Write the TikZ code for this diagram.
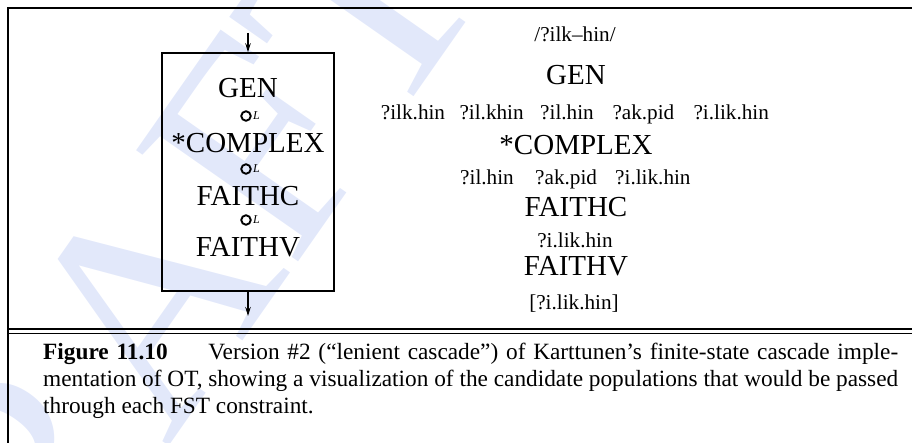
\documentclass[tikz,border=0pt]{standalone}
\usepackage{fontspec}
\setmainfont{Liberation Serif}
\usetikzlibrary{arrows.meta}
\definecolor{wmblue}{RGB}{226,232,250}

\begin{document}
\begin{tikzpicture}[x=1pt,y=-1pt,
  big/.style={font=\fontsize{29}{30}\selectfont, inner sep=0pt, anchor=base},
  cand/.style={font=\fontsize{21.2}{24}\selectfont, inner sep=0pt, anchor=base},
  candw/.style={cand, anchor=base west},
  capline/.style={font=\fontsize{23.3}{27}\selectfont, inner sep=0pt, anchor=base west},
  ring/.style={circle, draw, line width=1.9pt, minimum size=9.5pt, inner sep=0pt},
  sub/.style={font=\itshape\fontsize{12}{12}\selectfont, inner sep=0pt, anchor=base west},
  flow/.style={line width=1.2pt, -{Stealth[length=9pt,width=5.5pt]}},
  framerule/.style={line width=2pt},
  fst/.style={draw, line width=1.5pt, minimum width=172pt, minimum height=238pt, inner sep=0pt},
]
\useasboundingbox (0,0) rectangle (912,443);

% faint watermark behind everything
\begin{scope}
  \clip (0,0) rectangle (912,443);
  \node[text=wmblue, font=\fontsize{300}{300}\selectfont, rotate=55] (wm) at (130,330) {DRAFT};
\end{scope}

% page frame and caption rule
\draw[framerule] (8,443) -- (8,8) -- (912,8);
\draw[line width=1.7pt] (8,329) -- (912,329);
\draw[line width=1.7pt] (8,333.5) -- (912,333.5);

% the lenient cascade as a single composed transducer
\node[fst] (box) at (248,172) {};
\coordinate (in) at (248,33);
\coordinate (out) at (248,316);
\draw[flow] (in) -- (box.north);
\draw[flow] (box.south) -- (out);

\node[big] (bgen) at (248,98) {GEN};
\node[ring] (r1) at (246,116) {};
\node[sub] (l1) at ([xshift=3pt,yshift=1pt]r1.south east) {L};
\node[big] (bcomplex) at (248,153) {*COMPLEX};
\node[ring] (r2) at (246,169) {};
\node[sub] (l2) at ([xshift=3pt,yshift=1pt]r2.south east) {L};
\node[big] (bfaithc) at (248,206) {FAITHC};
\node[ring] (r3) at (246,220) {};
\node[sub] (l3) at ([xshift=3pt,yshift=1pt]r3.south east) {L};
\node[big] (bfaithv) at (248,257) {FAITHV};

% candidate populations passed through each constraint
\node[cand] (input) at (575,42) {/?ilk–hin/};
\node[big] (gen) at (576,84.5) {GEN};
\node[candw] (a1) at (380.7,120) {?ilk.hin};
\node[candw] (a2) at (459.3,120) {?il.khin};
\node[candw] (a3) at (540,120) {?il.hin};
\node[candw] (a4) at (612.3,120) {?ak.pid};
\node[candw] (a5) at (693.3,120) {?i.lik.hin};
\node[big] (complex) at (576,154.5) {*COMPLEX};
\node[candw] (b1) at (460,185) {?il.hin};
\node[candw] (b2) at (535,185) {?ak.pid};
\node[candw] (b3) at (615,185) {?i.lik.hin};
\node[big] (faithc) at (576,216.5) {FAITHC};
\node[cand] (c1) at (575,248) {?i.lik.hin};
\node[big] (faithv) at (576,275.5) {FAITHV};
\node[cand] (result) at (574,309) {[?i.lik.hin]};

% caption
\node[capline] (cap1) at (43,359) {\makebox[855pt][s]{\textbf{Figure 11.10}\hspace{1.75em}Version \#2 (“lenient cascade”) of Karttunen’s finite-state cascade imple-}};
\node[capline] (cap2) at (43,386) {\makebox[855pt][s]{mentation of OT, showing a visualization of the candidate populations that would be passed}};
\node[capline] (cap3) at (43,413) {through each FST constraint.};
\end{tikzpicture}
\end{document}
